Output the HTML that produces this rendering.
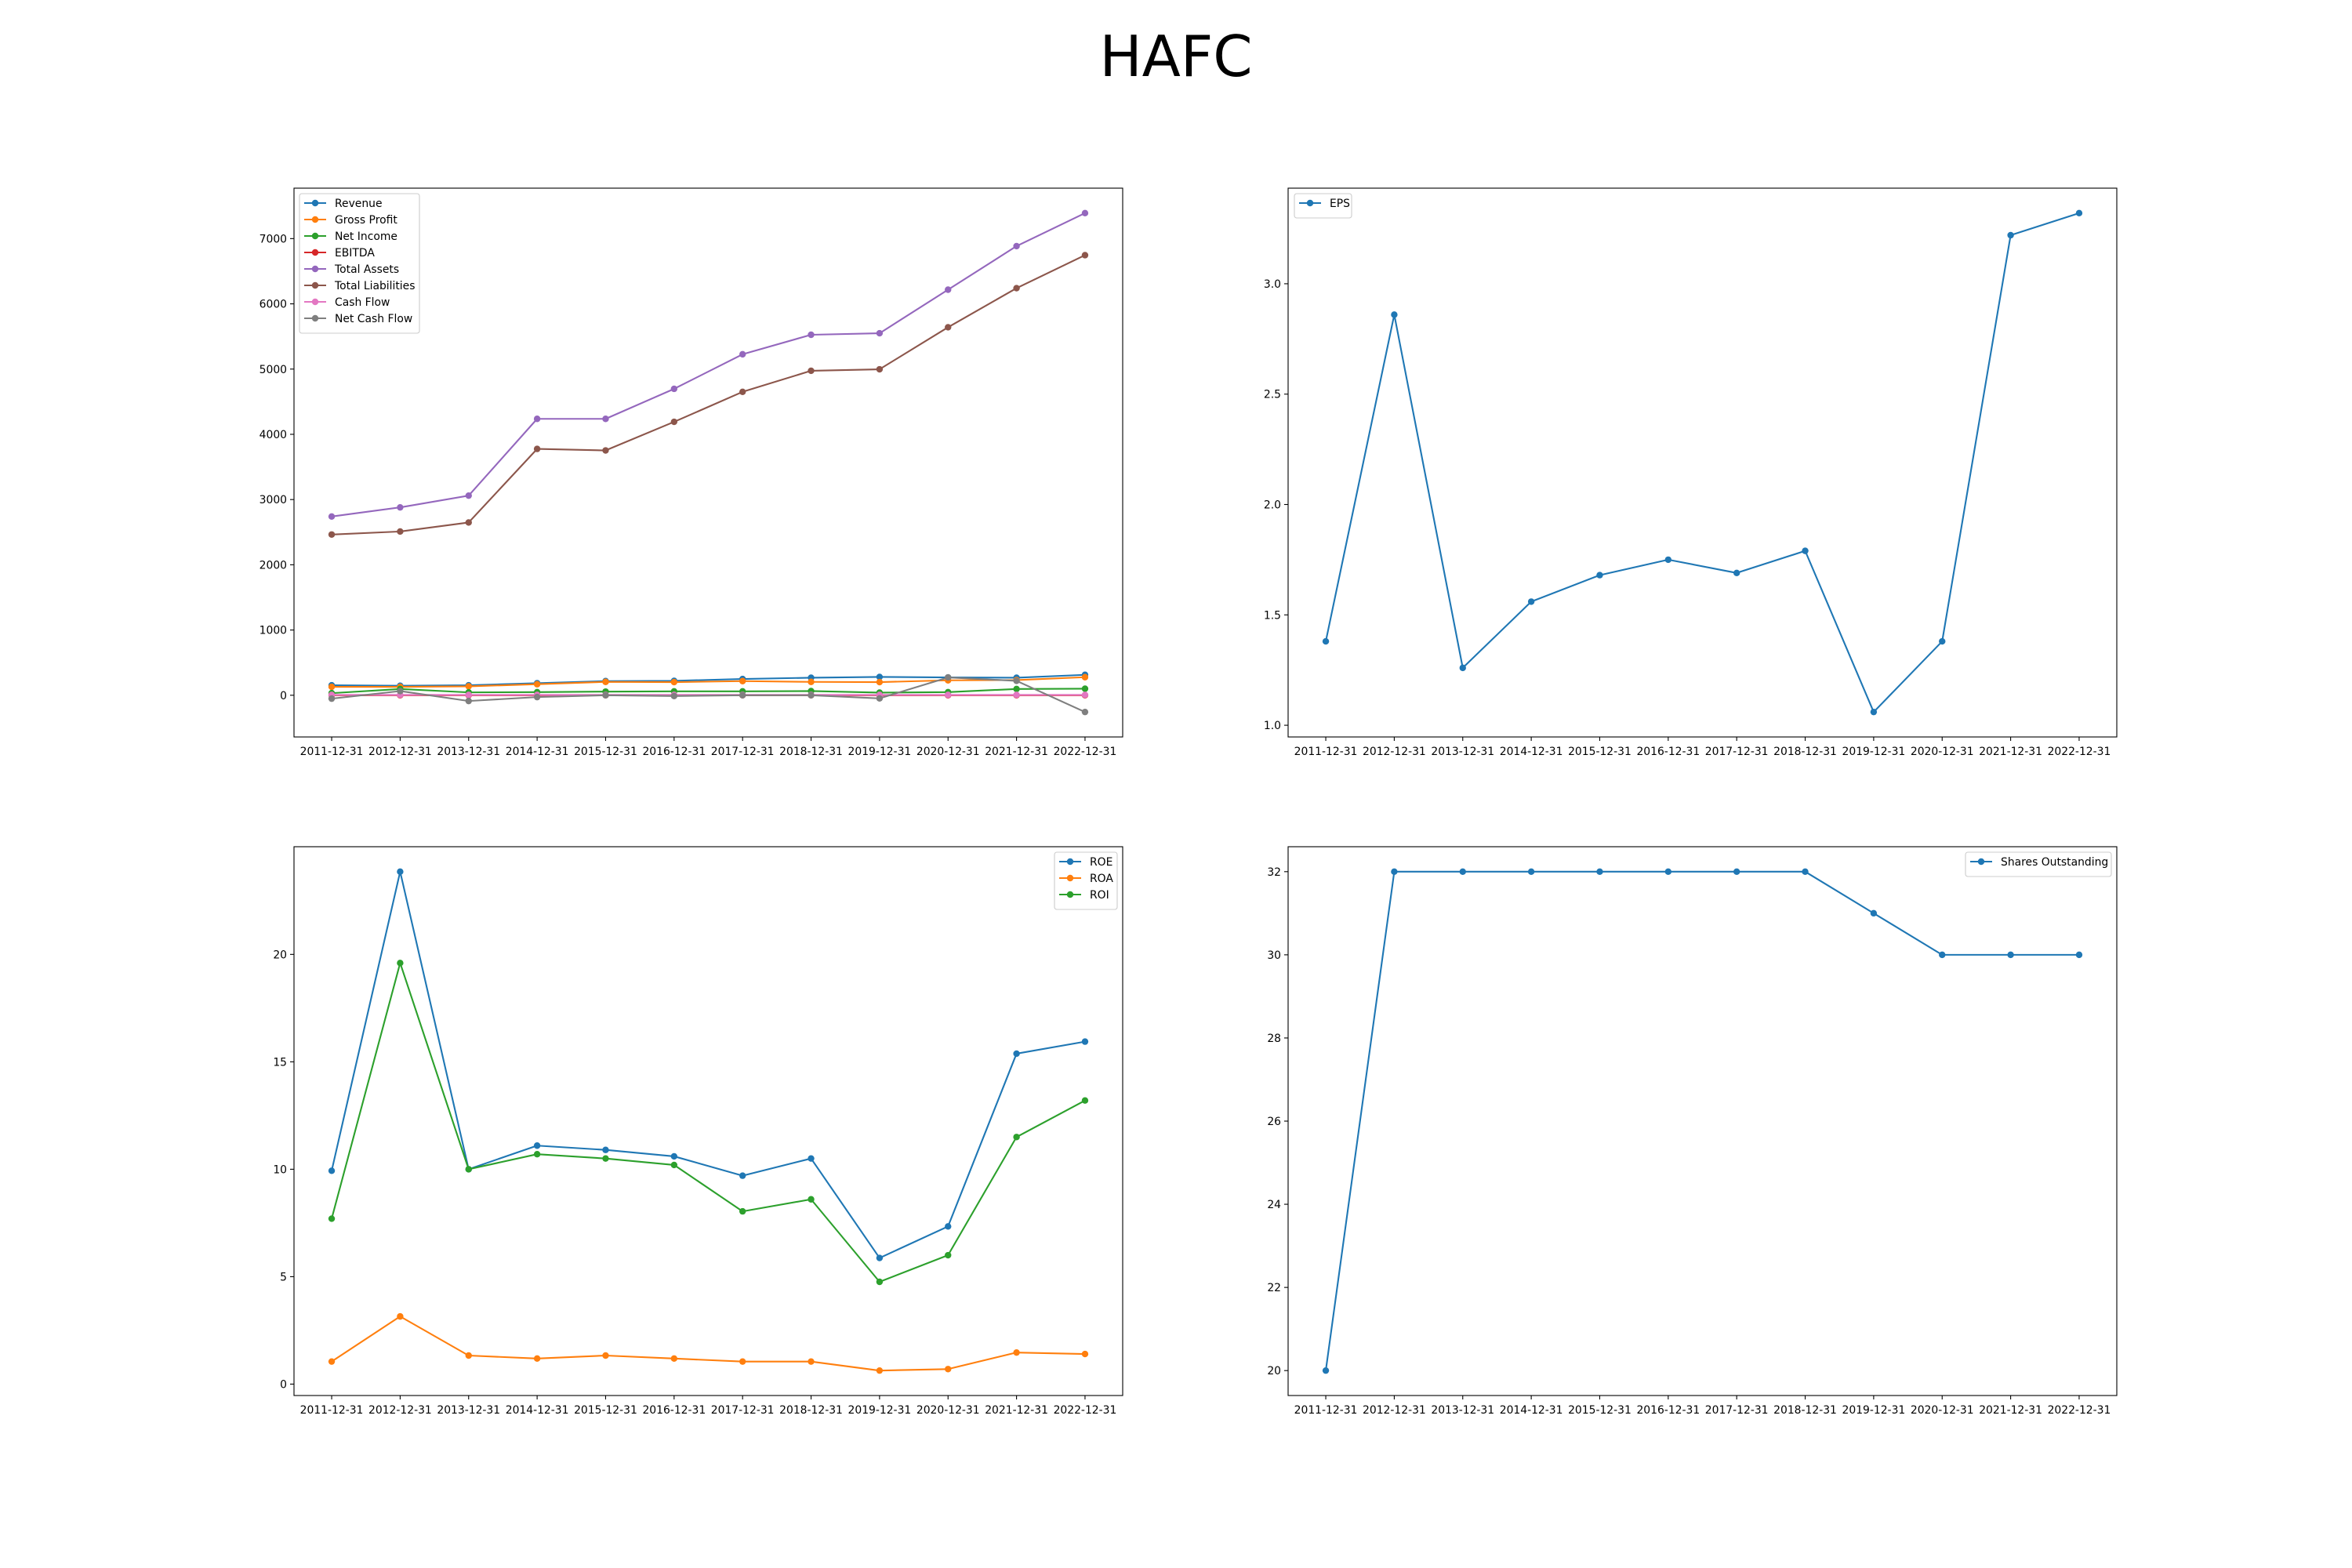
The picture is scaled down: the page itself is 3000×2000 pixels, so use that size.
<!DOCTYPE html>
<html><head><meta charset="utf-8">
<style>
html,body{margin:0;padding:0;background:#fff;}
svg{display:block;font-family:"DejaVu Sans","Liberation Sans",sans-serif;}
</style></head>
<body>
<svg id="fig" width="3000" height="2000" viewBox="0 0 3000 2000" xmlns="http://www.w3.org/2000/svg">
<rect width="3000" height="2000" fill="#fff"/>
<text x="1500" y="97" font-size="72" text-anchor="middle" fill="#000">HAFC</text>
</svg>
<script>
const categories=["2011-12-31","2012-12-31","2013-12-31","2014-12-31","2015-12-31","2016-12-31","2017-12-31","2018-12-31","2019-12-31","2020-12-31","2021-12-31","2022-12-31"];
const revenue=[153,145,153,185,217,221,249,269,281,273,269,313];
const grossProfit=[129,129,137,169,205,201,217,205,201,229,233,277];
const netIncome=[32,96,44,48,56,60,60,64,40,48,96,100];
const ebitda=[0,0,0,0,0,0,0,0,0,0,0,0];
const totalAssets=[2740,2880,3060,4237,4237,4697,5227,5526,5549,6217,6885,7391];
const totalLiabilities=[2464,2510,2648,3776,3753,4191,4651,4974,4997,5641,6240,6746];
const cashFlow=[6,6,6,6,6,6,6,6,6,6,6,6];
const netCashFlow=[-52,64,-88,-28,0,-12,0,0,-48,273,221,-257];
const eps=[1.38,2.86,1.26,1.56,1.68,1.75,1.69,1.79,1.06,1.38,3.22,3.32];
const roe=[9.93,23.85,10.0,11.1,10.9,10.6,9.7,10.5,5.87,7.34,15.38,15.94];
const roa=[1.05,3.15,1.33,1.19,1.33,1.19,1.05,1.05,0.63,0.7,1.47,1.4];
const roi=[7.7,19.6,10.0,10.7,10.5,10.2,8.04,8.6,4.76,6.0,11.5,13.2];
const shares=[20,32,32,32,32,32,32,32,31,30,30,30];
const ticksTL=[0,1000,2000,3000,4000,5000,6000,7000];
const ticksTR=[1.0,1.5,2.0,2.5,3.0];
const ticksBL=[0,5,10,15,20];
const ticksBR=[20,22,24,26,28,30,32];

const NS="http://www.w3.org/2000/svg";
const svg=document.getElementById('fig');
function mk(tag,attrs,parent){const e=document.createElementNS(NS,tag);for(const k in attrs)e.setAttribute(k,attrs[k]);(parent||svg).appendChild(e);return e;}

function chart(name,box,series,ticks,fmt,legend){
  const g=mk('g',{});
  
  
  const [L,T,W,H]=box;
  let mn=Infinity,mx=-Infinity;
  series.forEach(s=>s.v.forEach(v=>{mn=Math.min(mn,v);mx=Math.max(mx,v);}));
  const pad=(mx-mn)*0.05;const y0=mn-pad,y1=mx+pad;
  const n=categories.length;
  const xs=i=>L+(i+0.55)/(n-1+1.1)*W;
  const ys=v=>T+H-(v-y0)/(y1-y0)*H;
  // ticks
  categories.forEach((c,i)=>{
    const x=xs(i);
    const tk=mk('line',{x1:x,x2:x,y1:T+H,y2:T+H+5,stroke:'#000','stroke-width':1.1},g);
    
    
    const t=mk('text',{x:x,y:T+H+23,'font-size':13.9,'text-anchor':'middle',fill:'#000'},g);
    
    
    t.textContent=c;
  });
  ticks.forEach(v=>{
    const y=ys(v);
    const tk=mk('line',{x1:L-5,x2:L,y1:y,y2:y,stroke:'#000','stroke-width':1.1},g);
    
    
    const t=mk('text',{x:L-9,y:y+5,'font-size':13.9,'text-anchor':'end',fill:'#000'},g);
    
    
    t.textContent=fmt(v);
  });
  series.forEach(s=>{
    const p=mk('polyline',{points:s.v.map((v,i)=>xs(i)+','+ys(v)).join(' '),fill:'none',stroke:s.c,'stroke-width':2.1,'stroke-linejoin':'round'},g);
    
    
    s.v.forEach((v,i)=>{
      const c=mk('circle',{cx:xs(i),cy:ys(v),r:4.2,fill:s.c},g);
      
      
    });
  });
  const fr=mk('rect',{x:L,y:T,width:W,height:H,fill:'none',stroke:'#000','stroke-width':1.1},g);
  
  
  // legend
  const [lx,ly,lw]=legend;
  const lh=series.length*21+10;
  const lg=mk('g',{},g);
  
  
  mk('rect',{x:lx,y:ly,width:lw,height:lh,rx:3,fill:'#fff','fill-opacity':0.8,stroke:'#ccc','stroke-width':1.1},lg);
  series.forEach((s,k)=>{
    const cy=ly+12+k*21;
    const e=mk('g',{},lg);
    
    
    mk('line',{x1:lx+6,x2:lx+34,y1:cy,y2:cy,stroke:s.c,'stroke-width':2.1},e);
    mk('circle',{cx:lx+20,cy:cy,r:4.2,fill:s.c},e);
    const t=mk('text',{x:lx+45,y:cy+5,'font-size':13.9,fill:'#000'},e);
    t.textContent=s.name;
  });
}
const C=['#1f77b4','#ff7f0e','#2ca02c','#d62728','#9467bd','#8c564b','#e377c2','#7f7f7f'];
chart('financials-chart',[375,240,1057,700],[
 {id:'revenue',name:'Revenue',v:revenue,c:C[0]},
 {id:'gross-profit',name:'Gross Profit',v:grossProfit,c:C[1]},
 {id:'net-income',name:'Net Income',v:netIncome,c:C[2]},
 {id:'ebitda',name:'EBITDA',v:ebitda,c:C[3]},
 {id:'total-assets',name:'Total Assets',v:totalAssets,c:C[4]},
 {id:'total-liabilities',name:'Total Liabilities',v:totalLiabilities,c:C[5]},
 {id:'cash-flow',name:'Cash Flow',v:cashFlow,c:C[6]},
 {id:'net-cash-flow',name:'Net Cash Flow',v:netCashFlow,c:C[7]}
],ticksTL,v=>String(v),[382,247,153]);
chart('eps-chart',[1643,240,1057,700],[{id:'eps',name:'EPS',v:eps,c:C[0]}],ticksTR,v=>v.toFixed(1),[1651,247,73]);
chart('ratios-chart',[375,1080,1057,700],[
 {id:'roe',name:'ROE',v:roe,c:C[0]},
 {id:'roa',name:'ROA',v:roa,c:C[1]},
 {id:'roi',name:'ROI',v:roi,c:C[2]}
],ticksBL,v=>String(v),[1345,1087,80]);
chart('shares-chart',[1643,1080,1057,700],[{id:'shares',name:'Shares Outstanding',v:shares,c:C[0]}],ticksBR,v=>String(v),[2507,1087,186]);
</script>
</body></html>
